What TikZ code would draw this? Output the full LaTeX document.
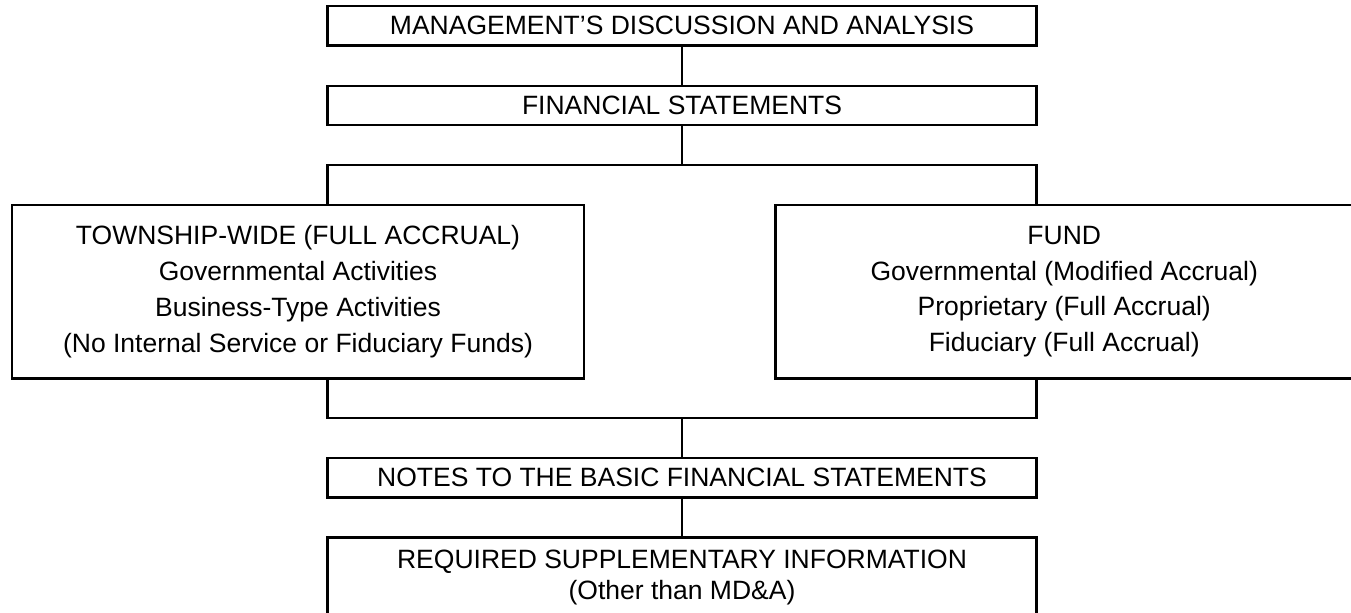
\documentclass[tikz,border=0pt]{standalone}
\usepackage{fontspec}
\setmainfont{Liberation Sans}
\begin{document}
\begin{tikzpicture}[x=0.5pt,y=-0.5pt,
  line width=1.2pt,
  box/.style={draw, line width=1.2pt, inner sep=0pt, align=center,
    font=\fontsize{13.25}{17.9}\selectfont},
  wire/.style={draw, line width=1.2pt}]
\useasboundingbox (0,0) rectangle (1351,613);
\fill[white] (0,0) rectangle (1351,613);
\clip (0,0) rectangle (1351,613);

\node[box, minimum width=354.5pt, minimum height=19.9pt] (mda) at (682,25.8)
  {MANAGEMENT’S DISCUSSION AND ANALYSIS};
\node[box, minimum width=354.5pt, minimum height=19.5pt] (fs) at (682,105.5)
  {FINANCIAL STATEMENTS};
\node[box, minimum width=286pt, minimum height=86.8pt] (tw) at (298,291.6)
  {TOWNSHIP-WIDE (FULL ACCRUAL)\\Governmental Activities\\Business-Type Activities\\(No Internal Service or Fiduciary Funds)};
\node[box, minimum width=288.75pt, minimum height=86.8pt] (fund) at (1064.25,291.6)
  {FUND\\Governmental (Modified Accrual)\\Proprietary (Full Accrual)\\Fiduciary (Full Accrual)};
\node[box, minimum width=354.5pt, minimum height=19.8pt] (notes) at (682,477.8)
  {NOTES TO THE BASIC FINANCIAL STATEMENTS};
\node[box, minimum width=354.5pt, minimum height=40.1pt,
  font=\fontsize{13.25}{15.8}\selectfont] (rsi) at (682,577.6)
  {REQUIRED SUPPLEMENTARY INFORMATION\\(Other than MD\&A)};

\coordinate (splitL) at (327.4,165);
\coordinate (splitR) at (1036.5,165);
\coordinate (joinL) at (327.4,418);
\coordinate (joinR) at (1036.5,418);

\draw[wire] (mda.south) -- (fs.north);
\draw[wire] (fs.south) -- (fs.south |- splitL);
\draw[wire] (tw.north -| splitL) -- (splitL) -- (splitR) -- (fund.north -| splitR);
\draw[wire] (tw.south -| joinL) -- (joinL) -- (joinR) -- (fund.south -| joinR);
\draw[wire] (notes.north |- joinL) -- (notes.north);
\draw[wire] (notes.south) -- (rsi.north);
\end{tikzpicture}
\end{document}
